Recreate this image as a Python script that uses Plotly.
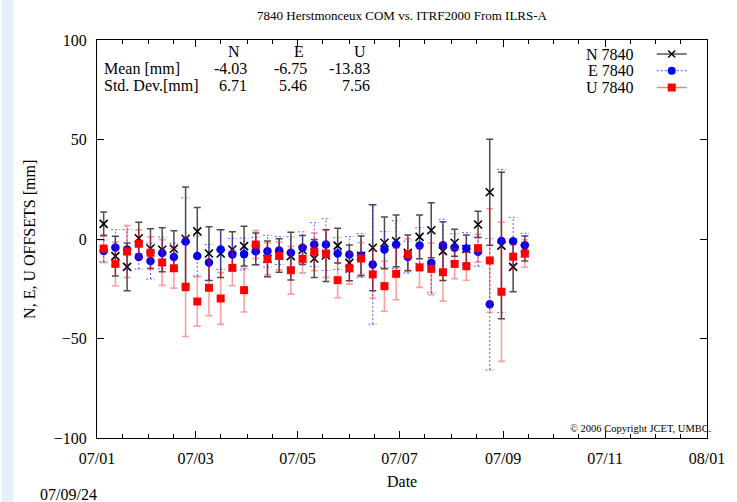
import plotly.graph_objects as go
import pandas as pd

# ---------------- data ----------------
dates = ["2007-01-05", "2007-01-12", "2007-01-19", "2007-01-26", "2007-02-02", "2007-02-09",
         "2007-02-16", "2007-02-23", "2007-03-02", "2007-03-09", "2007-03-16", "2007-03-23",
         "2007-03-30", "2007-04-06", "2007-04-13", "2007-04-20", "2007-04-27", "2007-05-04",
         "2007-05-11", "2007-05-18", "2007-05-25", "2007-06-01", "2007-06-08", "2007-06-15",
         "2007-06-22", "2007-06-29", "2007-07-06", "2007-07-13", "2007-07-20", "2007-07-27",
         "2007-08-03", "2007-08-10", "2007-08-17", "2007-08-24", "2007-08-31", "2007-09-07",
         "2007-09-14"]

n_val = [7.6, -8.6, -14.0, 0.4, -4.8, -5.4, -4.9, 0.1, 3.8, -7.3, -7.3, -5.3, -3.6, -5.0, -10.0,
         -8.3, -8.6, -5.5, -9.8, -8.3, -3.3, -12.0, -8.5, -4.4, -1.9, -1.0, -7.0, 1.1, 4.4, -6.1,
         -1.9, -5.0, 7.3, 23.5, -3.3, -14.0, -4.8]
n_err = [6, 10, 12, 8, 10, 11, 9, 26, 12, 13.5, 12, 9, 10, 8, 9, 8.4, 12, 7.3, 9.6, 13, 8.7, 9,
         10, 21.6, 13, 13, 9, 11, 13.8, 14.8, 6.8, 7, 6.6, 26.6, 36.8, 12.5, 6.3]

e_val = [-6.0, -4.3, -5.3, -9.1, -11.1, -7.0, -9.1, -1.3, -8.6, -11.8, -5.3, -7.8, -7.6, -6.1,
         -6.1, -5.8, -6.9, -4.4, -2.8, -2.8, -7.3, -7.8, -8.3, -12.8, -5.3, -2.8, -9.1, -3.3,
         -12.0, -3.1, -4.4, -4.8, -6.4, -32.8, -1.0, -1.1, -3.1]
e_err = [5.5, 9, 10, 6, 9, 8, 7, 22, 10, 9, 10, 8, 8, 7, 8, 7, 8, 8, 11, 13, 8, 9, 11, 30, 9, 12,
         8, 9, 15, 13, 7, 8, 7.3, 33, 36, 12, 6]

u_val = [-4.8, -12.5, -6.3, -2.4, -6.9, -11.8, -14.7, -24.0, -31.4, -24.5, -29.9, -14.5, -25.7,
         -2.8, -10.0, -8.5, -15.7, -10.0, -6.4, -7.3, -20.7, -14.7, -9.8, -17.8, -23.7, -17.5,
         -7.8, -14.3, -15.0, -16.7, -12.5, -13.7, -4.6, -10.8, -26.5, -8.9, -7.3]
u_err = [7, 11, 13, 7, 8, 11.5, 10, 25, 12.4, 14, 13, 9, 11, 7, 8, 7, 12, 7, 9.5, 12, 8.8, 8, 8,
         12, 12.6, 13, 8, 10, 13, 14.5, 7.4, 7, 7, 26, 35, 6, 6.9]

series_names = ["N 7840", "E 7840", "U 7840"]
stat_cols = ["N", "E", "U"]
stat_mean = ["-4.03", "-6.75", "-13.83"]
stat_std = ["6.71", "5.46", "7.56"]

# ---------------- layout helpers ----------------
W, H = 737, 502
ML, MR, MT, MB = 97, 22, 40, 64
PW, PH = W - ML - MR, H - MT - MB


def px(x):
    return (x - ML) / PW


def py(y):
    return (H - MB - y) / PH


FONT = "Liberation Serif"

fig = go.Figure()

# N series
fig.add_trace(go.Scatter(
    x=dates, y=n_val, mode="markers", showlegend=False,
    marker=dict(symbol="x-thin", size=8, line=dict(width=1.6, color="black"), color="black"),
    error_y=dict(type="data", array=n_err, color="rgba(0,0,0,0.7)", thickness=1.5, width=3.5),
))

# E series: dotted error bars built from the data
ts = pd.to_datetime(dates)
cap = pd.Timedelta(hours=62)
ex, ey = [], []
for t, v, e in zip(ts, e_val, e_err):
    ex += [t, t, None, t - cap, t + cap, None, t - cap, t + cap, None]
    ey += [v - e, v + e, None, v + e, v + e, None, v - e, v - e, None]
fig.add_trace(go.Scatter(
    x=ex, y=ey, mode="lines", showlegend=False, hoverinfo="skip",
    line=dict(color="rgba(40,40,255,0.75)", width=1, dash="2px,2px"),
))
fig.add_trace(go.Scatter(
    x=dates, y=e_val, mode="markers", showlegend=False,
    marker=dict(symbol="circle", size=8.5, color="#0000ff", line=dict(width=0)),
))

# U series
fig.add_trace(go.Scatter(
    x=dates, y=u_val, mode="markers", showlegend=False,
    marker=dict(symbol="square", size=8, color="#ff0000", line=dict(width=0)),
    error_y=dict(type="data", array=u_err, color="rgba(255,0,0,0.38)", thickness=1.6, width=3.5),
))

# legend-only entries, one legend each (labels placed to the left as annotations)
fig.add_trace(go.Scatter(x=[None], y=[None], mode="lines+markers", name=" ", legend="legend",
                         line=dict(color="black", width=1),
                         marker=dict(symbol="x-thin", size=7, line=dict(width=1.5, color="black"))))
fig.add_trace(go.Scatter(x=[None], y=[None], mode="lines+markers", name=" ", legend="legend2",
                         line=dict(color="#5050ff", width=1, dash="2px,2px"),
                         marker=dict(symbol="circle", size=8, color="#0000ff")))
fig.add_trace(go.Scatter(x=[None], y=[None], mode="lines+markers", name=" ", legend="legend3",
                         line=dict(color="rgba(255,0,0,0.5)", width=1.5),
                         marker=dict(symbol="square", size=8, color="#ff0000")))

minor_vals = []
for m in range(1, 13):
    minor_vals.append(f"2007-{m:02d}-01")
    minor_vals.append(f"2007-{m:02d}-16")

fig.update_xaxes(
    type="date", range=["2007-01-01", "2008-01-01"],
    tick0="2007-01-01", dtick="M2", tickformat="%y/%m",
    ticks="inside", ticklen=7, tickwidth=1, tickcolor="black",
    showline=True, linecolor="black", linewidth=1, mirror="allticks",
    showgrid=False, zeroline=False, ticklabelstandoff=6,
    tickfont=dict(family=FONT, size=16, color="black"),
    minor=dict(tickmode="array", tickvals=minor_vals, ticks="inside", ticklen=4,
               tickcolor="black", showgrid=False),
)
fig.update_yaxes(
    range=[-100, 100], tick0=0, dtick=50,
    ticks="inside", ticklen=7, tickwidth=1, tickcolor="black",
    showline=True, linecolor="black", linewidth=1, mirror="allticks",
    showgrid=False, zeroline=False, ticklabelstandoff=6,
    tickfont=dict(family=FONT, size=16, color="black"),
)

ann = []


def A(text, x, y, xanchor="center", size=16, **kw):
    ann.append(dict(text=text, x=px(x), y=py(y), xref="paper", yref="paper",
                    xanchor=xanchor, yanchor="middle", showarrow=False,
                    font=dict(family=FONT, size=size, color="black"), **kw))


A("7840 Herstmonceux COM vs. ITRF2000 From ILRS-A", 406, 15, size=13)
A("N, E, U OFFSETS [mm]", 28, 239, textangle=-90)
A("Date", 406, 481)
A("07/09/24", 37, 494, xanchor="left")

A(stat_cols[0], 236, 51.5)
A(stat_cols[1], 302, 51.5)
A(stat_cols[2], 363, 51.5)
A("Mean [mm]", 102, 68.5, xanchor="left")
A("Std. Dev.[mm]", 102, 85, xanchor="left")
for xr, m, s in zip([251, 312, 376], stat_mean, stat_std):
    A(m, xr, 68.5, xanchor="right")
    A(s, xr, 85, xanchor="right")

leg_rows = [54, 70.75, 87.5]
for name, yy in zip(series_names, leg_rows):
    A(name, 643, yy, xanchor="right")

A("© 2006 Copyright JCET, UMBC.", 721, 428, xanchor="right", size=10.5)


def leg(yc):
    return dict(x=px(659), y=py(yc), xanchor="left", yanchor="middle",
                bgcolor="rgba(0,0,0,0)", font=dict(size=9), itemwidth=30)


fig.update_layout(
    width=W, height=H,
    margin=dict(l=ML, r=MR, t=MT, b=MB, pad=0),
    paper_bgcolor="white", plot_bgcolor="white",
    font=dict(family=FONT, size=16, color="black"),
    annotations=ann,
    showlegend=True,
    legend=leg(leg_rows[0]), legend2=leg(leg_rows[1]), legend3=leg(leg_rows[2]),
    shapes=[dict(type="rect", xref="paper", yref="paper", x0=px(0), x1=px(12),
                 y0=py(H), y1=py(0), fillcolor="#e6f0fc", line=dict(width=0), layer="below")],
)

fig.write_html("out.html")
